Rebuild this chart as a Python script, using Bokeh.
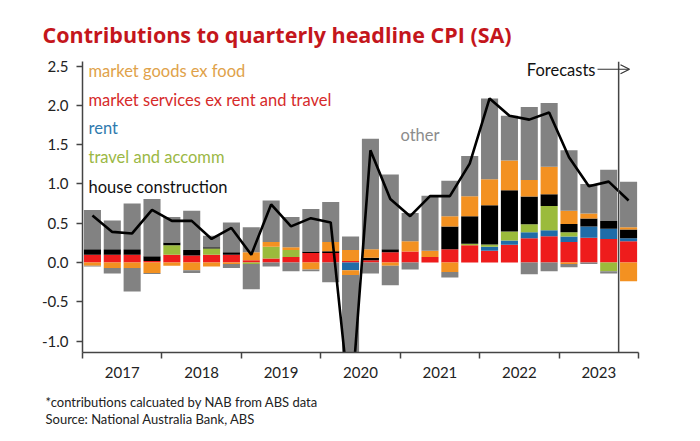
import numpy as np
from bokeh.plotting import figure
from bokeh.models import Range1d, FixedTicker, Label, Arrow, OpenHead, Span, NumeralTickFormatter, Title
from bokeh.embed import file_html
from bokeh.resources import INLINE

quarters = ["2017Q1", "2017Q2", "2017Q3", "2017Q4", "2018Q1", "2018Q2", "2018Q3", "2018Q4",
            "2019Q1", "2019Q2", "2019Q3", "2019Q4", "2020Q1", "2020Q2", "2020Q3", "2020Q4",
            "2021Q1", "2021Q2", "2021Q3", "2021Q4", "2022Q1", "2022Q2", "2022Q3", "2022Q4",
            "2023Q1", "2023Q2", "2023Q3", "2023Q4"]
years = ["2017", "2018", "2019", "2020", "2021", "2022", "2023"]

# contributions (ppt), rising (up) and falling (down) parts of each group
services_up = [0.10, 0.10, 0.10, 0.02, 0.10, 0.09, 0.10, 0.10, 0.03, 0.05, 0.07, 0.12, 0.12, 0.02,
               0.03, 0.13, 0.14, 0.07, 0.17, 0.22, 0.15, 0.225, 0.31, 0.335, 0.26, 0.315, 0.30, 0.27]
rent_up = [0, 0, 0, 0, 0, 0, 0, 0, 0, 0, 0, 0, 0, 0,
           0, 0, 0, 0, 0, 0, 0.05, 0.055, 0.076, 0.075, 0.07, 0.145, 0.13, 0.04]
rent_down = [0, 0, 0, 0, 0, 0, 0, 0, 0, 0, 0, 0, 0, -0.10,
             0, 0, 0, 0, 0, 0, 0, 0, 0, 0, 0, 0, 0, 0]
travel_up = [0, 0, 0, 0, 0.12, 0, 0.08, 0, 0, 0.15, 0.09, 0, 0, 0,
             0, 0, 0, 0, 0, 0.02, 0.03, 0.115, 0.10, 0.31, 0.055, 0, 0, 0]
travel_down = [0, 0, 0, 0, 0, 0, 0, 0, -0.02, 0, 0, 0, 0, 0,
               0, 0, 0, 0, 0, 0, 0, 0, 0, 0, 0, 0, -0.11, 0]
house_up = [0.07, 0.07, 0.07, 0.06, 0.035, 0.07, 0.015, 0.03, 0, 0, 0, 0.02, 0.025, 0,
            0.03, 0.04, 0, 0, 0.29, 0.35, 0.50, 0.525, 0.355, 0.15, 0.105, 0.10, 0.10, 0.11]
goods_up = [0, 0, 0, 0, 0, 0, 0, 0, 0.10, 0.06, 0.035, 0, 0.115, 0.14,
            0.11, 0, 0.13, 0.08, 0.13, 0.255, 0.33, 0.38, 0.21, 0.35, 0.17, 0.065, 0, 0.03]
goods_down = [-0.04, -0.07, -0.07, -0.135, -0.04, -0.10, -0.05, -0.02, 0, 0, 0, -0.09, 0, -0.06,
              0, -0.04, 0, 0, -0.12, 0, 0, 0, 0, 0, -0.02, 0, 0, -0.24]
other_up = [0.50, 0.365, 0.58, 0.73, 0.325, 0.50, 0.145, 0.38, 0.32, 0.53, 0.385, 0.54, 0.51, 0.17,
            1.405, 0.95, 0.36, 0.70, 0.45, 0.51, 1.03, 0.57, 0.93, 0.81, 0.77, 0.375, 0.65, 0.58]
other_down = [-0.01, -0.07, -0.30, -0.01, 0, -0.035, 0, -0.05, -0.32, -0.05, -0.11, -0.02, -0.25, -2.10,
              -0.14, -0.25, -0.09, 0, -0.07, 0, 0, 0, -0.15, -0.11, -0.04, -0.02, -0.03, 0]
headline_cpi = [0.60, 0.39, 0.37, 0.67, 0.53, 0.53, 0.30, 0.44, 0.10, 0.74, 0.46, 0.565, 0.51, -1.90,
                1.43, 0.81, 0.59, 0.845, 0.845, 1.26, 2.09, 1.87, 1.82, 1.91, 1.34, 0.97, 1.03, 0.79]

RED, BLUE, GREEN, BLACK, ORANGE, GREY = "#EE1C1C", "#1F6CA8", "#9BBB3C", "#000000", "#F39121", "#828282"

n = len(quarters)
xs = np.arange(n) + 0.5

p = figure(width=700, height=441, output_backend="svg", toolbar_location=None,
           x_range=Range1d(0, n), y_range=Range1d(-1.146, 2.56),
           min_border_left=82, min_border_right=62, min_border_top=61, min_border_bottom=89)
p.xgrid.visible = False
p.ygrid.visible = False
p.outline_line_color = None
p.background_fill_color = "white"
p.border_fill_color = "white"

# title
p.title.text = "Contributions to quarterly headline CPI (SA)"
p.title.text_font = "Open Sans"
p.title.text_font_style = "bold"
p.title.text_font_size = "21.5px"
p.title.text_color = "#C4161C"
p.title.align = "left"
p.title.offset = -40
p.title.standoff = 26

up_series = [(services_up, RED), (rent_up, BLUE), (travel_up, GREEN), (house_up, BLACK),
             (goods_up, ORANGE), (other_up, GREY)]
down_series = [(rent_down, BLUE), (travel_down, GREEN), (goods_down, ORANGE), (other_down, GREY)]

base = np.zeros(n)
for vals, col in up_series:
    v = np.array(vals, dtype=float)
    p.vbar(x=xs, bottom=base.copy(), top=base + v, width=0.86, fill_color=col, line_color=None)
    base = base + v
base = np.zeros(n)
for vals, col in down_series:
    v = np.array(vals, dtype=float)
    p.vbar(x=xs, top=base.copy(), bottom=base + v, width=0.86, fill_color=col, line_color=None)
    base = base + v

p.line(xs, headline_cpi, line_color="black", line_width=2.6)

p.add_layout(Span(location=27, dimension="height", line_color="#444444", line_width=1.5))

# axes
AX = "#444444"
year_centers = [2 + 4 * i for i in range(len(years))]
p.xaxis.ticker = FixedTicker(ticks=year_centers, minor_ticks=[4 * i for i in range(len(years) + 1)])
p.xaxis.major_label_overrides = {c: y for c, y in zip(year_centers, years)}
p.xaxis.major_tick_out = 0
p.xaxis.major_tick_in = 0
p.xaxis.minor_tick_out = 6
p.xaxis.minor_tick_in = 0
p.xaxis.minor_tick_line_color = AX
p.xaxis.minor_tick_line_width = 1.5
p.xaxis.axis_line_color = AX
p.xaxis.axis_line_width = 1.5
p.xaxis.major_label_standoff = 8
p.xaxis.major_label_text_font = "Lato"
p.xaxis.major_label_text_font_size = "15px"
p.xaxis.major_label_text_color = "#222222"

p.yaxis.ticker = FixedTicker(ticks=[-1.0, -0.5, 0.0, 0.5, 1.0, 1.5, 2.0, 2.5], minor_ticks=[])
p.yaxis.formatter = NumeralTickFormatter(format="0.0")
p.yaxis.major_tick_out = 6
p.yaxis.major_tick_in = 0
p.yaxis.major_tick_line_color = AX
p.yaxis.major_tick_line_width = 1.5
p.yaxis.axis_line_color = AX
p.yaxis.axis_line_width = 1.5
p.yaxis.major_label_standoff = 8
p.yaxis.major_label_text_font = "Lato"
p.yaxis.major_label_text_font_size = "15px"
p.yaxis.major_label_text_color = "#222222"

# footer (two lines in one title)
footer_lines = ["*contributions calcuated by NAB from ABS data", "Source: National Australia Bank, ABS"]
p.add_layout(Title(text="\n".join(footer_lines), align="left", offset=-37, standoff=26,
                   vertical_align="top", text_font="Lato", text_font_size="13px",
                   text_line_height=1.09, text_font_style="normal", text_color="#222222"), "below")


def px2x(px):
    return (px - 82) / 19.857


def py2y(py):
    return (262.4 - py) / 78.57


def add_text(txt, px, py, color, size, font="Lato", align="left", style="normal"):
    p.add_layout(Label(x=px2x(px), y=py2y(py), text=txt, text_color=color, text_font=font,
                       text_font_size=size, text_align=align, text_baseline="middle",
                       text_font_style=style))


legend_items = [("market goods ex food", "#E0A24A", 71), ("market services ex rent and travel", "#D62A2A", 100),
                ("rent", "#2F7AAE", 128), ("travel and accomm", "#9BB845", 157), ("house construction", "#111111", 187)]
for txt, col, py in legend_items:
    add_text(txt, 88, py, col, "16.5px")

add_text("other", 400, 135, "#8C8C8C", "16.5px")
add_text("Forecasts", 595, 70, "#111111", "16.5px", align="right")
p.add_layout(Arrow(end=OpenHead(size=9, line_color="#333333", line_width=1.2),
                   x_start=px2x(597), y_start=py2y(69), x_end=px2x(629), y_end=py2y(69),
                   line_color="#333333", line_width=1.2))

open("out.html", "w").write(file_html(p, INLINE))
